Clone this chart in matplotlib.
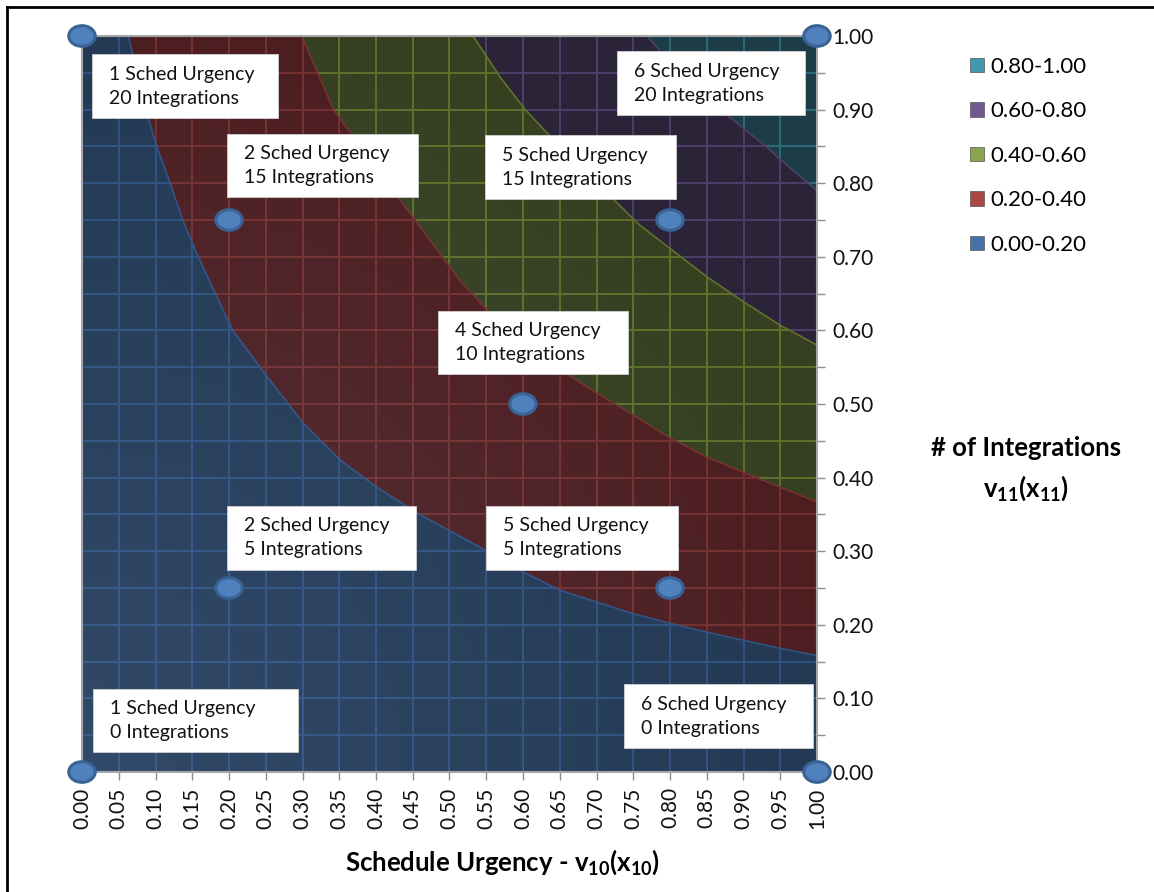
import numpy as np
import matplotlib; matplotlib.use("Agg")
import matplotlib.pyplot as plt
from matplotlib.patches import Polygon, Rectangle, Ellipse, Patch
from matplotlib.collections import LineCollection
from matplotlib.lines import Line2D

plt.rcParams['font.family'] = ['Lato', 'DejaVu Sans']
plt.rcParams['mathtext.fontset'] = 'custom'
plt.rcParams['mathtext.rm'] = 'Lato'
plt.rcParams['mathtext.bf'] = 'Lato:bold'

# contour boundaries, each from the top edge to the right edge
b20_x = [0.063, 0.090, 0.102, 0.120, 0.137, 0.156, 0.173, 0.205, 0.252, 0.301, 0.351, 0.401,
         0.456, 0.505, 0.555, 0.600, 0.650, 0.700, 0.750, 0.800, 0.850, 0.900, 0.950, 1.000]
b20_y = [1.000, 0.889, 0.849, 0.800, 0.750, 0.705, 0.668, 0.600, 0.537, 0.474, 0.424, 0.387,
         0.352, 0.325, 0.298, 0.272, 0.247, 0.231, 0.215, 0.202, 0.190, 0.179, 0.168, 0.158]
b40_x = [0.299, 0.342, 0.390, 0.433, 0.514, 0.551, 0.600, 0.660, 0.705, 0.750, 0.800, 0.850, 0.900, 0.950, 1.000]
b40_y = [1.000, 0.900, 0.835, 0.777, 0.668, 0.628, 0.587, 0.541, 0.512, 0.485, 0.454, 0.428, 0.407, 0.387, 0.367]
b60_x = [0.532, 0.569, 0.603, 0.633, 0.680, 0.722, 0.759, 0.803, 0.850, 0.900, 0.950, 1.000]
b60_y = [1.000, 0.944, 0.900, 0.868, 0.822, 0.779, 0.743, 0.709, 0.673, 0.639, 0.607, 0.580]
b80_x = [0.769, 0.786, 0.830, 0.877, 0.932, 0.950, 1.000]
b80_y = [1.000, 0.980, 0.937, 0.893, 0.849, 0.832, 0.790]

levels = ["0.00-0.20", "0.20-0.40", "0.40-0.60", "0.60-0.80", "0.80-1.00"]
fills = ["#223853", "#4d1d1f", "#363f20", "#2b2438", "#1c3c46"]
grids = ["#2f5182", "#76302f", "#60712b", "#4f3e69", "#2b6b79"]
leg_cols = ["#4572a7", "#aa4643", "#89a54e", "#71588f", "#4198af"]

# marked points and their labels
pts_x = [0, 1, 0, 1, 0.2, 0.8, 0.2, 0.8, 0.6]
pts_y = [0, 0, 1, 1, 0.25, 0.25, 0.75, 0.75, 0.5]
sched = [1, 6, 1, 6, 2, 5, 2, 5, 4]
integ = [0, 0, 20, 20, 5, 5, 15, 15, 10]
# label box (left, bottom, width) in data units
boxes = [(0.015, 0.027, 0.279), (0.737, 0.033, 0.257), (0.014, 0.889, 0.253), (0.728, 0.893, 0.256),
         (0.197, 0.275, 0.257), (0.550, 0.275, 0.261), (0.197, 0.781, 0.260), (0.548, 0.779, 0.260),
         (0.484, 0.541, 0.259)]

W, H = 1154, 892
fig = plt.figure(figsize=(W/100, H/100), dpi=100)
ax = fig.add_axes([82/W, 1-772/H, 735/W, 736/H])

def arr(bx, by):
    return np.column_stack([bx, by])

b1, b2, b3, b4 = arr(b20_x, b20_y), arr(b40_x, b40_y), arr(b60_x, b60_y), arr(b80_x, b80_y)
bands = [np.vstack([[[0, 0], [1, 0]], b1[::-1], [[0, 1]]]),
         np.vstack([b1, b2[::-1]]),
         np.vstack([b2, b3[::-1]]),
         np.vstack([b3, b4[::-1]]),
         np.vstack([b4, [[1, 1]]])]

steps = np.arange(0.05, 0.999, 0.05)
segs = [[(v, 0), (v, 1)] for v in steps] + [[(0, v), (1, v)] for v in steps]
for poly, fc, gc in zip(bands, fills, grids):
    p = Polygon(poly, closed=True, facecolor=fc, edgecolor='none', zorder=1)
    ax.add_patch(p)
    lc = LineCollection(segs, colors=gc, linewidths=1.4, zorder=2)
    ax.add_collection(lc)
    lc.set_clip_path(p)

for (bx, by), gc in zip([(b20_x, b20_y), (b40_x, b40_y), (b60_x, b60_y), (b80_x, b80_y)], grids):
    ax.plot(bx, by, color=gc, lw=1.2, zorder=2.5)

# soft lighting from the lower left corner
gx, gy = np.meshgrid(np.linspace(0, 1, 200), np.linspace(0, 1, 200))
shade = np.zeros((200, 200, 4))
shade[..., :3] = (0.55, 0.70, 0.90)
shade[..., 3] = 0.15*np.clip(1-np.hypot(gx, gy)/1.1, 0, 1)
ax.imshow(shade, extent=[0, 1, 0, 1], origin='lower', aspect='auto', zorder=3, interpolation='bilinear')

for (x0, y0, w), s, n in zip(boxes, sched, integ):
    ax.add_patch(Rectangle((x0, y0), w, 0.086, facecolor='white', edgecolor='#d0d0d0', lw=0.6, zorder=5))
    ax.text(x0+0.023, y0+0.043, f"{s} Sched Urgency\n{n} Integrations", ha='left', va='center',
            fontsize=14, linespacing=1.5, color='#111111', zorder=6)

for x, y in zip(pts_x, pts_y):
    ax.add_patch(Ellipse((x, y), 0.036, 0.028, facecolor='#4f81bd', edgecolor='#3a6294', lw=2.2,
                         zorder=7, clip_on=False))

ax.set_xlim(0, 1)
ax.set_ylim(0, 1)
xt = np.arange(0, 1.0001, 0.05)
ax.set_xticks(xt)
ax.set_xticklabels([f"{v:.2f}" for v in xt], rotation=90)
ax.yaxis.tick_right()
yt = np.arange(0, 1.0001, 0.1)
ax.set_yticks(yt)
ax.set_yticklabels([f"{v:.2f}" for v in yt])
ax.set_yticks(np.arange(0.05, 1.0, 0.1), minor=True)
ax.tick_params(axis='both', which='both', color='#8c8c8c', length=6, width=1, labelsize=15, pad=5,
               labelcolor='#111111')
for sp in ax.spines.values():
    sp.set_color('#a6a6a6')
    sp.set_linewidth(1.5)

fig.text(502/W, 1-862/H, r"Schedule Urgency - $\mathbf{v_{10}(x_{10})}$", ha='center', va='center',
         fontsize=18.5, fontweight='bold')
fig.text(1026/W, 1-448/H, "# of Integrations", ha='center', va='center', fontsize=18.5, fontweight='bold')
fig.text(1026/W, 1-488/H, r"$\mathbf{v_{11}(x_{11})}$", ha='center', va='center', fontsize=18.5)

handles = [Patch(facecolor=c, edgecolor='#555555', lw=0.5) for c in leg_cols[::-1]]
fig.legend(handles, levels[::-1], loc='upper left', bbox_to_anchor=(970/W, 1-57/H), frameon=False,
           fontsize=16, handlelength=0.63, handleheight=0.63, handletextpad=0.3, labelspacing=1.1,
           borderpad=0, borderaxespad=0)

fig.add_artist(Line2D([7/W, 7/W], [0, 1-7/H], color='black', lw=2, transform=fig.transFigure))
fig.add_artist(Line2D([7/W, 1], [1-7/H, 1-7/H], color='black', lw=2, transform=fig.transFigure))

fig.savefig("out.png", dpi=100)
